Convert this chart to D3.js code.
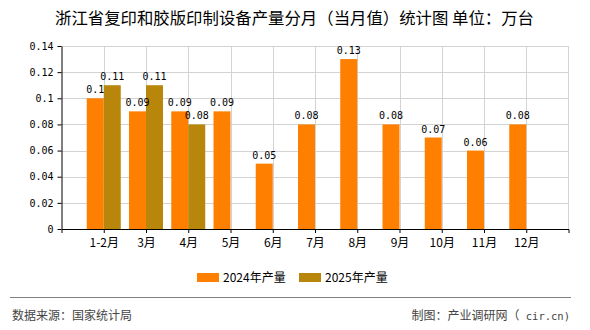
<!DOCTYPE html>
<html><head><meta charset="utf-8">
<script src="https://cdn.jsdelivr.net/npm/d3@7/dist/d3.min.js"></script>
<style>
body{margin:0;background:#fff;}
svg{display:block;}
</style></head>
<body><svg id="c" width="590" height="330"></svg>
<script>
const categories = ["1-2月","3月","4月","5月","6月","7月","8月","9月","10月","11月","12月"];
const series2024 = [0.1,0.09,0.09,0.09,0.05,0.08,0.13,0.08,0.07,0.06,0.08];
const series2025 = [0.11,0.11,0.08,null,null,null,null,null,null,null,null];
const seriesNames = ["2024年产量","2025年产量"];
const seriesColors = ["#FF8000","#B8860B"];
const yTicks = [0,0.02,0.04,0.06,0.08,0.1,0.12,0.14];
const title = "浙江省复印和胶版印制设备产量分月（当月值）统计图 单位：万台";
const sourceText = "数据来源：国家统计局";
const creditText = "制图：产业调研网（";
const creditTail = " cir.cn)";

const svg = d3.select("#c");
const L = 61.5, R = 568.5, T = 46, B = 229;
const cjk = "'Noto Sans CJK SC', 'Noto Sans', sans-serif";
const mono = "'DejaVu Sans Mono', 'Liberation Mono', monospace";

const x = d3.scalePoint().domain(categories).range([L, R]).padding(1);
const y = d3.scaleLinear().domain([0, 0.14]).range([B, T]);
const bw = 17;

// title
svg.append("text").attr("x", 294.5).attr("y", 24).attr("text-anchor","middle")
  .attr("font-family", cjk).attr("font-size", 16.4).attr("fill","#000").text(title);

// grid
const g = svg.append("g");
g.selectAll("line.h").data(yTicks.slice(1)).join("line")
  .attr("x1", L).attr("x2", R).attr("y1", d => Math.round(y(d))+0.5).attr("y2", d => Math.round(y(d))+0.5)
  .attr("stroke","#d3d3d3").attr("stroke-width",1);
g.selectAll("line.v").data(categories).join("line")
  .attr("x1", d => Math.round(x(d))+0.5).attr("x2", d => Math.round(x(d))+0.5)
  .attr("y1", T).attr("y2", B).attr("stroke","#d3d3d3").attr("stroke-width",1);
g.append("line").attr("x1", R).attr("x2", R).attr("y1", T).attr("y2", B)
  .attr("stroke","#d3d3d3").attr("stroke-width",1);

// bars
const bars = svg.append("g");
bars.selectAll("rect.a").data(series2024).join("rect")
  .attr("x", (d,i) => x(categories[i]) - bw).attr("width", bw)
  .attr("y", d => y(d)).attr("height", d => B - y(d)).attr("fill", seriesColors[0]);
const d25 = series2025.map((v,i)=>({v,i})).filter(d => d.v != null);
bars.selectAll("rect.b").data(d25).join("rect")
  .attr("x", d => x(categories[d.i])).attr("width", bw)
  .attr("y", d => y(d.v)).attr("height", d => B - y(d.v)).attr("fill", seriesColors[1]);

// value labels
const lab = svg.append("g").attr("font-family", mono).attr("font-size", 10).attr("fill","#000").attr("text-anchor","middle");
lab.selectAll("text.a").data(series2024).join("text")
  .attr("x", (d,i) => x(categories[i]) - bw/2).attr("y", d => y(d) - 5).text(d => d);
lab.selectAll("text.b").data(d25).join("text")
  .attr("x", d => x(categories[d.i]) + bw/2).attr("y", d => y(d.v) - 5).text(d => d.v);

// axes
const ya = svg.append("g").attr("transform", `translate(${L},0)`)
  .call(d3.axisLeft(y).tickValues(yTicks).tickSize(4).tickSizeOuter(0).tickPadding(4).tickFormat(d => d3.format("")(+d.toFixed(2))));
ya.select(".domain").attr("stroke","#000");
ya.selectAll(".tick line").attr("stroke","#000");
ya.selectAll("text").attr("font-family", mono).attr("font-size", 10).attr("fill","#000");

const xa = svg.append("g").attr("transform", `translate(0,${B})`)
  .call(d3.axisBottom(x).tickSize(4).tickSizeOuter(4).tickPadding(5));
xa.select(".domain").attr("stroke","#000");
xa.selectAll(".tick line").attr("stroke","#000");
xa.selectAll("text").attr("font-family", cjk).attr("font-size", 12).attr("fill","#000");

// legend
const leg = svg.append("g");
const legX = [197, 299];
seriesNames.forEach((n,i) => {
  leg.append("rect").attr("x", legX[i]).attr("y", 273).attr("width", 22).attr("height", 9).attr("fill", seriesColors[i]);
  leg.append("text").attr("x", legX[i] + 26).attr("y", 282).attr("font-family", cjk)
    .attr("font-size", 12).attr("fill","#000").text(n);
});

// footer
svg.append("line").attr("x1", 10).attr("x2", 571).attr("y1", 297.5).attr("y2", 297.5)
  .attr("stroke","#808080").attr("stroke-width",1);
svg.append("text").attr("x", 12).attr("y", 320).attr("font-family", cjk).attr("font-size", 12)
  .attr("fill","#444").text(sourceText);
const cr = svg.append("text").attr("x", 570).attr("y", 320).attr("text-anchor","end").attr("font-family", cjk).attr("font-size", 12)
  .attr("fill","#444");
cr.append("tspan").text(creditText);
cr.append("tspan").attr("font-family", mono).attr("font-size", 10.5).text(creditTail);
</script></body></html>
